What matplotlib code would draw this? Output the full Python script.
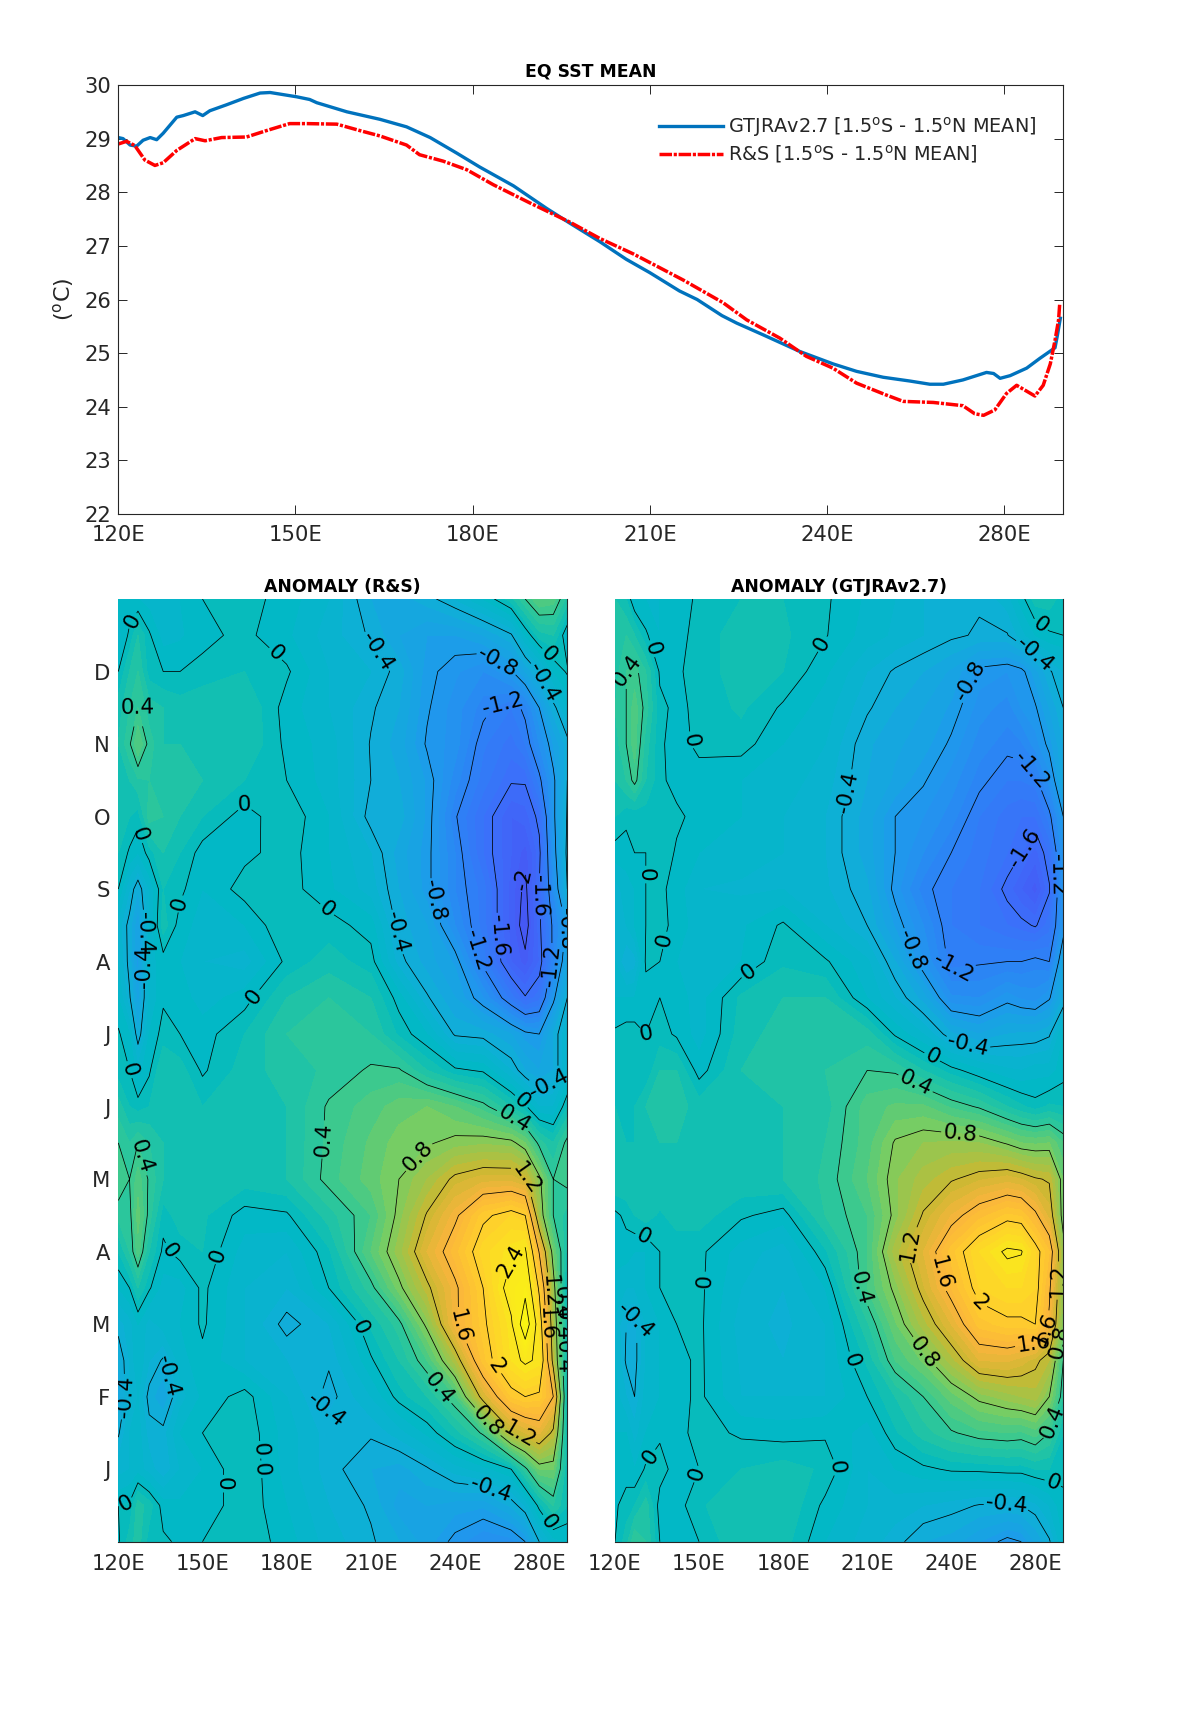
import numpy as np
import matplotlib
matplotlib.use('Agg')
import matplotlib.pyplot as plt
from matplotlib.colors import LinearSegmentedColormap

plt.rcParams['font.family'] = 'DejaVu Sans'
plt.rcParams['mathtext.default'] = 'regular'

# top panel: mean SST along the equator
gt_lon = [120, 120.8, 122, 123.1, 124.2, 125.4, 126.5, 127.6, 129.9, 131, 133, 134.3, 135.5, 138.3, 141.2, 144, 145.7,
          147.4, 150.2, 152.4, 153.6, 158.7, 164.3, 168.8, 172.8, 177.3, 181.2, 186.9, 192.5, 196.5, 201.5, 206, 210,
          215, 218, 222.2, 224.7, 229.2, 235.4, 241, 245, 249.5, 254, 257.4, 259.7, 263, 267, 268.2, 269.3, 271,
          273.8, 276, 278.6, 279, 279.5]
gt_sst = [29.02, 29.0, 28.88, 28.86, 28.97, 29.02, 28.98, 29.1, 29.4, 29.43, 29.5, 29.43, 29.52, 29.63, 29.75, 29.85, 29.86,
          29.83, 29.78, 29.73, 29.67, 29.5, 29.36, 29.22, 29.02, 28.73, 28.47, 28.12, 27.7, 27.42, 27.08, 26.75, 26.5,
          26.16, 26.0, 25.7, 25.56, 25.34, 25.03, 24.8, 24.66, 24.55, 24.48, 24.42, 24.42, 24.5, 24.64, 24.62, 24.53, 24.58,
          24.72, 24.9, 25.1, 25.33, 25.65]
rs_lon = [120, 121.4, 122.8, 124.5, 126.2, 127.6, 129.9, 133, 134.7, 137.5, 141.7, 145.1, 149, 151.9, 157, 160.9, 164.3,
          168.8, 171, 175, 179, 183.5, 189.7, 196.5, 201.5, 207.2, 211.2, 215.7, 222.4, 226.4, 232, 236.5, 241, 245,
          250, 252.9, 258, 263, 265, 266.5, 268.4, 270.4, 272.1, 275.2, 276.6, 277.8, 278.6, 279.2, 279.4]
rs_sst = [28.9, 28.95, 28.87, 28.6, 28.5, 28.55, 28.78, 29.0, 28.96, 29.02, 29.03, 29.15, 29.28, 29.28, 29.27, 29.15, 29.05,
          28.88, 28.7, 28.58, 28.42, 28.14, 27.8, 27.44, 27.14, 26.85, 26.62, 26.36, 25.94, 25.62, 25.28, 24.94, 24.72, 24.44,
          24.22, 24.1, 24.08, 24.02, 23.87, 23.84, 23.94, 24.25, 24.4, 24.2, 24.4, 24.8, 25.24, 25.62, 25.93]

# lower panels: anomaly by longitude and month, rows run from the top of the plot down
grid_lon = [120, 124, 127, 131, 136, 142, 150, 165, 180, 195, 210, 220, 230, 240, 250, 260, 265, 270, 275, 280]
grid_month = np.arange(13, -0.5, -0.5)

rs_anom = [
    [-.05, -.08, -.1, -.15, -.15, -.1, 0, .05, -.05, -.2, -.5, -.55, -.45, -.3, -.1, .15, .4, .6, .55, .25],
    [-.15, .03, .2, .02, -.15, -.12, -.03, .03, -.08, -.25, -.42, -.6, -.7, -.7, -.6, -.42, -.1, .15, .2, -.1],
    [0, .2, .3, .05, 0, 0, .03, .1, .02, -.2, -.3, -.45, -.75, -.88, -1.0, -.82, -.6, -.38, -.1, .02],
    [.15, .3, .4, .25, .2, .15, .2, .2, -.05, -.2, -.38, -.5, -.78, -.95, -1.15, -1.3, -1.15, -.8, -.45, -.2],
    [.2, .38, .6, .35, .2, .2, .2, .2, -.03, -.15, -.41, -.55, -.82, -.95, -1.28, -1.45, -1.3, -1.0, -.7, -.45],
    [.1, .2, .28, .3, .3, .25, .2, .1, 0, -.15, -.4, -.5, -.72, -1.05, -1.35, -1.58, -1.58, -1.25, -.85, -.4],
    [.2, .1, .05, .35, .3, .2, .1, -.05, .08, -.1, -.45, -.45, -.72, -1.18, -1.5, -1.8, -1.75, -1.55, -.85, -.38],
    [.1, -.02, -.1, .05, .2, .1, -.05, -.03, .05, -.1, -.3, -.55, -.75, -1.1, -1.5, -1.8, -1.95, -1.65, -.9, -.35],
    [0, -.3, -.5, -.2, .1, .03, -.1, .05, .05, -.08, -.25, -.5, -.75, -1.1, -1.35, -1.85, -2.05, -1.6, -1.0, -.4],
    [-.25, -.45, -.7, -.2, .15, -.05, -.15, -.1, .1, .05, -.05, -.45, -.6, -1.0, -1.35, -1.85, -2.1, -1.65, -1.15, -.75],
    [-.2, -.45, -.75, -.15, -.05, -.1, -.2, -.25, .03, .15, .05, -.35, -.55, -.72, -1.25, -1.8, -1.95, -1.7, -1.15, -.6],
    [-.1, -.38, -.65, -.2, -.02, -.05, -.15, -.05, .2, .3, .2, -.05, -.38, -.6, -.9, -1.35, -1.58, -1.45, -.85, -.4],
    [.02, -.1, -.5, -.1, .05, 0, -.05, .1, .3, .38, .3, .08, -.1, -.42, -.45, -.6, -.75, -.8, -.5, -.2],
    [.05, 0, -.15, -.02, .2, .15, -.02, .15, .25, .32, .42, .42, .2, .03, -.02, -.3, -.5, -.6, -.5, -.2],
    [.25, .1, .05, .1, .2, .15, .1, .15, .2, .42, .55, .65, .7, .6, .45, .2, .03, -.2, -.2, .1],
    [.4, .3, .4, .3, .2, .2, .2, .15, .2, .43, .62, .75, .78, .85, .88, .85, .7, .35, .2, .45],
    [.5, .4, .55, .38, .2, .2, .15, .15, .2, .45, .65, .8, 1.0, 1.25, 1.35, 1.35, 1.25, .85, .4, .45],
    [.33, .35, .65, .35, .05, .15, .12, -.05, -.02, .25, .5, .85, 1.22, 1.55, 1.95, 2.1, 2.0, .95, .4, .25],
    [.1, .3, .55, .2, -.03, .05, .1, -.15, -.2, .08, .6, .95, 1.4, 1.75, 2.15, 2.35, 2.45, 1.58, .7, .15],
    [-.1, 0, .2, .02, -.15, -.15, .03, -.2, -.3, 0, .35, .75, 1.15, 1.55, 2.0, 2.55, 2.7, 1.95, .9, 0],
    [-.35, -.25, -.1, -.25, -.15, -.1, .02, -.2, -.45, -.3, .12, .35, .85, 1.55, 1.95, 2.35, 3.05, 2.2, 1.0, .1],
    [-.5, -.3, -.1, -.3, -.42, -.15, -.03, -.2, -.3, -.38, -.02, .2, .5, 1.05, 1.85, 2.3, 2.45, 2.35, 1.1, .05],
    [-.55, -.3, -.2, -.45, -.6, -.25, -.08, .05, -.2, -.45, -.2, .05, .2, .5, 1.3, 1.9, 2.0, 1.95, 1.6, .05],
    [-.42, -.2, -.15, -.35, -.35, -.1, 0, .08, -.15, -.35, -.38, -.25, -.08, .15, .43, 1.15, 1.3, 1.42, 1.15, .05],
    [-.25, -.2, -.15, -.25, -.38, -.2, -.1, .1, -.15, -.35, -.5, -.55, -.42, -.25, -.15, 0, .35, .7, .7, .1],
    [0, .02, .25, .15, -.05, -.08, -.08, .08, -.1, -.3, -.42, -.65, -.6, -.65, -.68, -.48, -.3, .05, .3, .1],
    [-.02, .15, .25, .05, .02, -.02, 0, .08, -.05, -.25, -.38, -.5, -.65, -.85, -1.0, -.95, -.8, -.4, -.15, -.1],
]

gt_anom = [
    [.2, .1, -.1, -.1, -.1, -.05, .02, .1, .1, .02, -.12, -.2, -.3, -.38, -.38, -.25, -.05, .15, .15, .05],
    [.25, .3, .2, .02, -.1, -.05, .05, .15, .12, .01, -.15, -.22, -.3, -.37, -.42, -.41, -.25, -.1, -.02, 0],
    [.25, .4, .45, .3, -.02, -.02, .05, .15, .1, -.08, -.3, -.42, -.5, -.62, -.85, -.9, -.85, -.65, -.42, -.3],
    [.3, .4, .55, .35, .03, -.03, .03, .12, -.02, -.15, -.38, -.5, -.6, -.72, -.95, -1.05, -.9, -.82, -.6, -.4],
    [.25, .4, .55, .25, .02, -.05, .03, .05, -.1, -.2, -.48, -.58, -.65, -.83, -1.05, -1.15, -1.12, -.95, -.75, -.5],
    [.2, .3, .45, .2, .03, -.05, -.05, -.1, -.15, -.25, -.5, -.62, -.78, -.95, -1.15, -1.3, -1.3, -1.25, -.95, -.55],
    [.1, .03, .02, .05, .1, .03, -.05, -.1, -.2, -.3, -.55, -.8, -.9, -1.05, -1.3, -1.45, -1.5, -1.5, -1.25, -.8],
    [-.05, -.05, 0, 0, .1, -.02, -.1, -.15, -.2, -.3, -.55, -.8, -1.0, -1.2, -1.35, -1.5, -1.6, -1.75, -1.5, -.9],
    [-.25, -.15, -.1, 0, .03, -.05, -.2, -.22, -.2, -.28, -.48, -.85, -1.15, -1.3, -1.4, -1.65, -1.8, -1.95, -1.62, -.9],
    [-.2, -.2, -.1, 0, .05, -.05, -.15, -.12, .02, -.2, -.4, -.72, -1.0, -1.3, -1.4, -1.5, -1.55, -1.62, -1.45, -.9],
    [-.2, -.4, -.35, .02, 0, -.1, -.18, -.1, .08, .02, -.18, -.5, -.9, -1.25, -1.22, -1.2, -1.2, -1.15, -1.2, -.6],
    [-.1, -.1, -.1, -.05, 0, -.05, -.15, .12, .2, .2, -.1, -.3, -.55, -.98, -1.0, -.85, -.92, -.95, -.82, -.5],
    [.02, .05, .05, 0, .05, -.02, -.15, .15, .25, .3, .25, -.02, -.2, -.48, -.6, -.5, -.48, -.48, -.42, -.1],
    [.05, .05, .1, .02, .2, .2, -.05, .2, .22, .3, .4, .38, .2, .05, -.08, -.18, -.2, -.15, -.15, -.05],
    [.1, .1, .1, .2, .25, .25, .15, .2, .2, .25, .55, .62, .62, .48, .38, .2, .12, .05, .12, .1],
    [.15, .1, .1, .2, .2, .2, .15, .18, .2, .3, .55, .82, .9, .92, .9, .78, .7, .68, .7, .5],
    [.2, .2, .15, .2, .2, .2, .15, .18, .2, .32, .6, .88, 1.05, 1.18, 1.28, 1.35, 1.3, 1.22, 1.18, .7],
    [-.03, .03, .1, .15, .08, .15, .15, .02, -.05, .3, .5, .85, 1.22, 1.5, 1.75, 1.92, 1.88, 1.65, 1.35, .7],
    [-.05, -.05, -.1, -.1, 0, .03, .03, -.15, -.25, .08, .5, 1.05, 1.4, 1.85, 2.2, 2.45, 2.42, 2.1, 1.8, .9],
    [-.15, -.2, -.2, -.1, 0, .05, .03, -.2, -.3, -.1, .5, .85, 1.28, 1.7, 2.1, 2.2, 2.2, 2.1, 1.65, .9],
    [-.22, -.4, -.45, -.2, -.1, 0, .03, -.25, -.33, -.2, .28, .68, 1.05, 1.4, 1.85, 1.95, 1.95, 2.0, 1.55, .8],
    [-.2, -.42, -.45, -.2, -.1, -.05, .03, -.22, -.3, -.2, .12, .5, .72, 1.05, 1.4, 1.42, 1.35, 1.25, 1.1, .4],
    [-.15, -.3, -.4, -.15, -.1, -.05, .03, -.2, -.2, -.2, 0, .2, .4, .65, .85, .95, 1.0, 1.05, .8, .3],
    [-.1, -.1, -.25, -.1, -.02, -.05, .05, -.02, -.05, -.02, -.15, .08, .25, .38, .47, .5, .48, .55, .4, .1],
    [-.05, -.05, -.1, .02, .05, -.05, 0, .1, .15, .08, -.2, -.1, -.03, .02, .03, .05, .05, .1, .1, .02],
    [-.02, .05, .1, .25, -.05, -.05, .08, .2, .2, -.03, -.2, -.25, -.3, -.35, -.41, -.42, -.4, -.33, -.2, -.02],
    [0, .15, .4, .3, 0, -.05, 0, .2, .15, -.1, -.25, -.35, -.5, -.55, -.7, -.85, -.8, -.6, -.42, -.1],
]

lon_ticks = [120, 150, 180, 210, 240, 270]
lon_labels = ['120E', '150E', '180E', '210E', '240E', '280E']
month_ticks = list(range(1, 13))
month_labels = ['J', 'F', 'M', 'A', 'M', 'J', 'J', 'A', 'S', 'O', 'N', 'D']
sst_ticks = list(range(22, 31))

# where the contour labels sit (lon, month)
rs_label_pos = [(125, 12.7), (175, 12.2), (213, 12.3), (256, 12.2), (275, 12.3), (271.5, 11.85), (256, 11.65), (127, 11.6),
                (165, 10.2), (127.6, 9.75), (233.5, 8.85), (262, 9.15), (269.7, 8.9), (141.5, 8.8), (194, 8.7), (218.6, 8.4),
                (129.6, 8.4), (253.6, 8.35), (247, 8.15), (278.6, 8.45), (273, 7.95), (134.4, 7.93), (169, 7.5), (123, 6.5),
                (191.3, 5.55), (225.8, 5.35), (264.3, 6.1), (261.4, 5.85), (275, 6.15), (127.8, 5.3), (265, 5), (137.6, 4),
                (155, 3.95), (255.4, 4), (273, 3.45), (278.6, 3.3), (272.6, 3), (278.6, 3), (206, 2.95), (243, 3),
                (278.6, 2.55), (255.8, 2.45), (138.5, 2.3), (122, 2), (234, 2.1), (193, 1.8), (250, 1.6), (263, 1.5),
                (163, 1.25), (171.7, 1), (148.6, .8), (123, .5), (252, .67), (276, .35)]
gt_label_pos = [(275.8, 12.85), (132, 12.3), (193, 12.4), (270, 12.25), (124.8, 12), (248, 11.85), (146, 11.05), (265, 10.5),
                (202, 10.35), (269, 9.5), (279, 9.2), (130.3, 9.2), (137, 8.3), (165, 8), (225, 8.15), (241, 7.8),
                (245.5, 6.8), (232.7, 6.65), (123.6, 6.55), (227, 6.3), (243, 5.55), (131, 4.3), (224.7, 4.1), (278.8, 3.6),
                (153.7, 3.6), (235.4, 3.7), (208, 3.5), (250, 3.3), (127, 3.05), (273, 2.95), (278.8, 2.75), (230, 2.6),
                (270.5, 2.7), (203.9, 2.5), (122.4, 1.45), (276.4, 1.65), (144.7, 1), (199.4, 1.03), (277.6, .93), (259.8, .5)]

W, H = 1181, 1713
dark = '#262626'
cmap_stops = [(-2.4, (60, 70, 235)), (-2.0, (70, 90, 245)), (-1.6, (60, 110, 250)), (-1.2, (45, 130, 245)),
              (-0.8, (30, 155, 235)), (-0.4, (15, 175, 215)), (0, (0, 185, 195)), (0.4, (50, 200, 150)),
              (0.8, (125, 205, 95)), (1.2, (200, 185, 50)), (1.6, (250, 180, 60)), (2.0, (255, 205, 45)),
              (2.4, (250, 230, 30)), (3.2, (250, 250, 15))]
cmap = LinearSegmentedColormap.from_list(
    'anom', [((v + 2.4) / 5.6, tuple(c / 255 for c in rgb)) for v, rgb in cmap_stops])


def box(left, top, right, bottom):
    # axes rectangle from pixel edges
    return [left / W, 1 - bottom / H, (right - left) / W, (bottom - top) / H]


def level_text(v):
    return '%g' % (round(v, 1) + 0.0)


fig = plt.figure(figsize=(W / 100, H / 100), dpi=100)

ax = fig.add_axes(box(118.3, 85, 1063.3, 514))
ax.plot(gt_lon, gt_sst, color='#0072BD', lw=2.4, label=r'GTJRAv2.7 [1.5$^{o}$S - 1.5$^{o}$N MEAN]')
ax.plot(rs_lon, rs_sst, color='#FF0000', lw=2.5, ls=(0, (3.6, 0.5, 0.9, 0.5)),
        label=r'R&S [1.5$^{o}$S - 1.5$^{o}$N MEAN]')
ax.set_xlim(120, 280)
ax.set_ylim(22, 30)
ax.set_xticks(lon_ticks, lon_labels)
ax.set_yticks(sst_ticks)
ax.tick_params(direction='in', length=6.8, width=0.7, top=True, right=True, labelsize=15.2, labelcolor=dark,
               color=dark)
ax.tick_params(axis='x', pad=8)
ax.tick_params(axis='y', pad=5)
ax.set_ylabel(r'($^{o}$C)', fontsize=16, color=dark, labelpad=6)
ax.set_title('EQ SST MEAN', fontsize=12.4, fontweight='bold', pad=6)
for s in ax.spines.values():
    s.set_linewidth(0.8)
    s.set_color(dark)
ax.legend(loc='upper left', bbox_to_anchor=(0.5723, 0.93), frameon=False, fontsize=13.9, handlelength=3.3,
          handletextpad=0.25, labelspacing=0.22, borderpad=0, borderaxespad=0, labelcolor=dark)

levels_fill = np.round(np.arange(-2.4, 3.21, 0.1), 1)
levels_line = np.round(np.arange(-2.4, 3.01, 0.4), 1)


def anomaly_panel(rect, anom, title, label_pos, show_months):
    a = fig.add_axes(rect)
    z = np.array(anom)
    a.contourf(grid_lon, grid_month, z, levels=levels_fill, cmap=cmap, vmin=-2.4, vmax=3.2)
    cs = a.contour(grid_lon, grid_month, z, levels=levels_line, colors='k', linewidths=0.55, linestyles='solid')
    a.clabel(cs, fmt=level_text, fontsize=15.5, manual=label_pos, inline=True, inline_spacing=2)
    a.set_xlim(120, 280)
    a.set_ylim(0, 13)
    a.set_xticks(lon_ticks, lon_labels)
    a.set_yticks(month_ticks, month_labels if show_months else [])
    a.tick_params(length=0, labelsize=15.2, labelcolor=dark)
    a.tick_params(axis='x', pad=9)
    a.tick_params(axis='y', pad=6)
    a.set_title(title, fontsize=12.4, fontweight='bold', pad=5)
    a.spines['top'].set_visible(False)
    a.spines['left'].set_visible(False)
    a.spines['right'].set_color(dark)
    a.spines['bottom'].set_color(dark)
    return a


anomaly_panel(box(118.3, 599, 567.3, 1541.7), rs_anom, 'ANOMALY (R&S)', rs_label_pos, True)
anomaly_panel(box(615, 599, 1063.3, 1541.7), gt_anom, 'ANOMALY (GTJRAv2.7)', gt_label_pos, False)

fig.savefig('out.png', dpi=100)
